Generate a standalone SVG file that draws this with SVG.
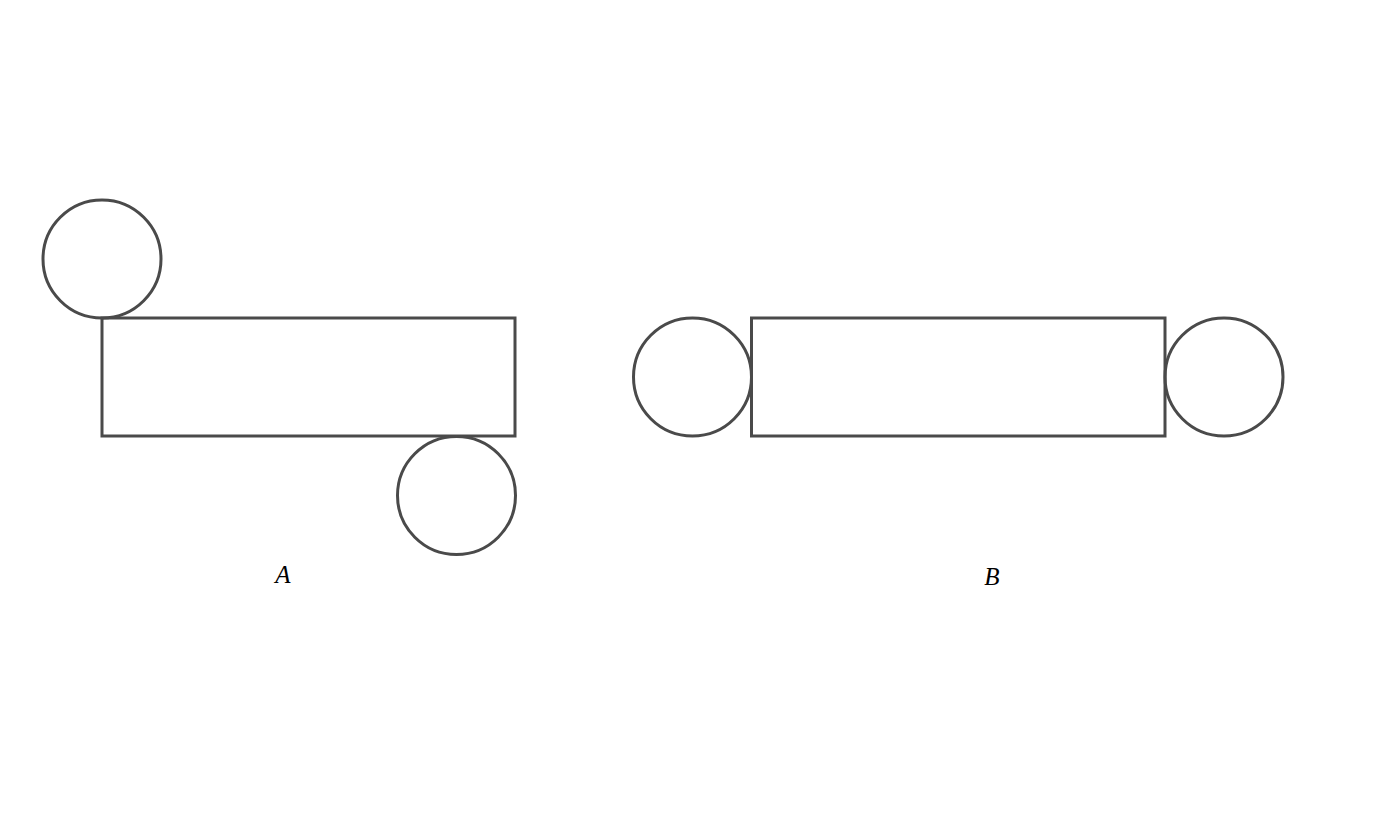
<svg xmlns="http://www.w3.org/2000/svg" width="1391" height="830" viewBox="0 0 1391 830">
<style>
.s{fill:none;stroke:#4a4a4a;stroke-width:3}
.t{font-family:"Liberation Serif",serif;font-style:italic;font-size:25px;fill:#000;text-anchor:middle}
</style>
<rect width="1391" height="830" fill="#fff"/>
<g id="figA">
<g id="A-circle-top"><circle class="s" cx="102" cy="259" r="59"/></g>
<g id="A-rect"><rect class="s" x="102" y="318" width="413" height="118"/></g>
<g id="A-circle-bottom"><circle class="s" cx="456.5" cy="495.5" r="59"/></g>
<g id="A-label"><text class="t" x="283" y="583">A</text></g>
</g>
<g id="figB">
<g id="B-circle-left"><circle class="s" cx="692.5" cy="377" r="59"/></g>
<g id="B-rect"><rect class="s" x="751.5" y="318" width="413.5" height="118"/></g>
<g id="B-circle-right"><circle class="s" cx="1224" cy="377" r="59"/></g>
<g id="B-label"><text class="t" x="992" y="585">B</text></g>
</g>
<g id="connectors"></g>
</svg>
